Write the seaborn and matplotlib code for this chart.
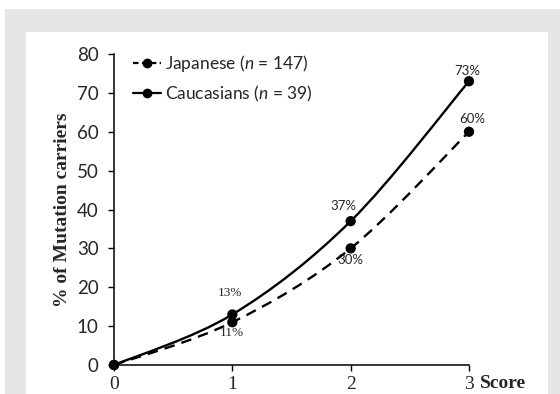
import numpy as np
import pandas as pd
import matplotlib
matplotlib.use("Agg")
import matplotlib.pyplot as plt
import seaborn as sns
from matplotlib.path import Path
from matplotlib.patches import PathPatch, Rectangle
from matplotlib.lines import Line2D

# Percentage of mutation carriers by clinical score
scores = [0, 1, 2, 3]
japanese = [0, 11, 30, 60]
caucasians = [0, 13, 37, 73]
group_names = ["Japanese", "Caucasians"]
group_sizes = [147, 39]
value_labels_jp = ["", "11%", "30%", "60%"]
value_labels_ca = ["", "13%", "37%", "73%"]
y_ticks = [0, 10, 20, 30, 40, 50, 60, 70, 80]
x_ticks = [0, 1, 2, 3]

sns.set_style("white")
plt.rcParams["font.family"] = ["Lato", "DejaVu Sans"]
plt.rcParams["mathtext.fontset"] = "custom"
plt.rcParams["mathtext.it"] = "Lato:italic"
plt.rcParams["mathtext.rm"] = "Lato"

df = pd.DataFrame({
    "score": scores * 2,
    "pct": japanese + caucasians,
    "group": [group_names[0]] * len(scores) + [group_names[1]] * len(scores),
})

W, H = 560, 394
fig = plt.figure(figsize=(W / 100, H / 100), dpi=100)
fig.patch.set_facecolor("white")

# scanned page border: grey frame around a white panel
fig.add_artist(Rectangle((5 / W, 0), (W - 5) / W, (H - 9) / H,
                         transform=fig.transFigure, facecolor="#e6e6e6",
                         edgecolor="none", zorder=-3))
fig.add_artist(Rectangle((26 / W, 0), (548 - 26) / W, (H - 32) / H,
                         transform=fig.transFigure, facecolor="white",
                         edgecolor="none", zorder=-2))

ax = fig.add_axes([114 / W, 29 / H, (469 - 114) / W, (365 - 54) / H])
ax.set_facecolor("none")


def smooth_path(xs, ys):
    """Cubic Bezier path through the points (spreadsheet-style smoothing)."""
    pts = np.column_stack([xs, ys]).astype(float)
    n = len(pts)
    verts = [pts[0]]
    codes = [Path.MOVETO]
    for i in range(n - 1):
        p_prev = pts[i - 1] if i > 0 else pts[i]
        p_next2 = pts[i + 2] if i + 2 < n else pts[i + 1]
        c1 = pts[i] + (pts[i + 1] - p_prev) / 6.0
        c2 = pts[i + 1] - (p_next2 - pts[i]) / 6.0
        verts += [c1, c2, pts[i + 1]]
        codes += [Path.CURVE4] * 3
    return Path(verts, codes)


ax.add_patch(PathPatch(smooth_path(scores, japanese), facecolor="none",
                       edgecolor="black", lw=1.7, linestyle=(0, (4.5, 3)),
                       zorder=2, clip_on=False))
ax.add_patch(PathPatch(smooth_path(scores, caucasians), facecolor="none",
                       edgecolor="black", lw=1.7, zorder=2, clip_on=False))

sns.scatterplot(data=df, x="score", y="pct", hue="group",
                palette=["black", "black"], s=55, edgecolor="black",
                linewidth=0, legend=False, ax=ax, zorder=3, clip_on=False)

# value labels
offsets_jp = [None, (0, -8), (0, -8.5), (2, 9)]
offsets_ca = [None, (-1.5, 15.5), (-5, 11), (-1.5, 7.5)]
serif_labels = {"11%", "13%"}
for xs, ys, labels, offs in [(scores, japanese, value_labels_jp, offsets_jp),
                             (scores, caucasians, value_labels_ca, offsets_ca)]:
    for x, y, lab, off in zip(xs, ys, labels, offs):
        if not lab:
            continue
        fam = ["Liberation Serif"] if lab in serif_labels else ["Lato"]
        ax.annotate(lab, xy=(x, y), xytext=off, textcoords="offset points",
                    ha="center", va="center", fontsize=9.5, family=fam)

ax.set_xlim(0, 3)
ax.set_ylim(0, 80)
ax.set_xticks(x_ticks)
ax.set_yticks(y_ticks)
ax.set_xticklabels([str(t) for t in x_ticks], family=["Liberation Serif"],
                   fontsize=14)
ax.set_yticklabels([str(t) for t in y_ticks], fontsize=13.5)
ax.tick_params(axis="y", direction="out", length=4, width=1, pad=7,
               left=True, color="black")
ax.tick_params(axis="x", direction="out", length=4, width=1, pad=4,
               bottom=True, color="black")
for side in ["top", "right"]:
    ax.spines[side].set_visible(False)
for side in ["left", "bottom"]:
    ax.spines[side].set_color("black")
    ax.spines[side].set_linewidth(1.1)

ax.set_xlabel("")
ax.set_ylabel("% of Mutation carriers", family=["Liberation Serif"],
              fontweight="bold", fontsize=14, labelpad=4)
ax.text(1.03, -0.06, "Score", transform=ax.transAxes, ha="left", va="center",
        family=["Liberation Serif"], fontweight="bold", fontsize=14)

handles = [
    Line2D([], [], color="black", lw=1.6, linestyle=(0, (2.5, 1.5)),
           marker="o", markersize=6),
    Line2D([], [], color="black", lw=1.6, marker="o", markersize=6),
]
labels = [f"{name} ($n$ = {n})" for name, n in zip(group_names, group_sizes)]
ax.legend(handles, labels, loc="upper left", bbox_to_anchor=(0.035, 1.025),
          frameon=False, fontsize=12.5, handlelength=1.6, handletextpad=0.2,
          labelspacing=0.55, borderaxespad=0)

fig.savefig("out.png", dpi=100)
